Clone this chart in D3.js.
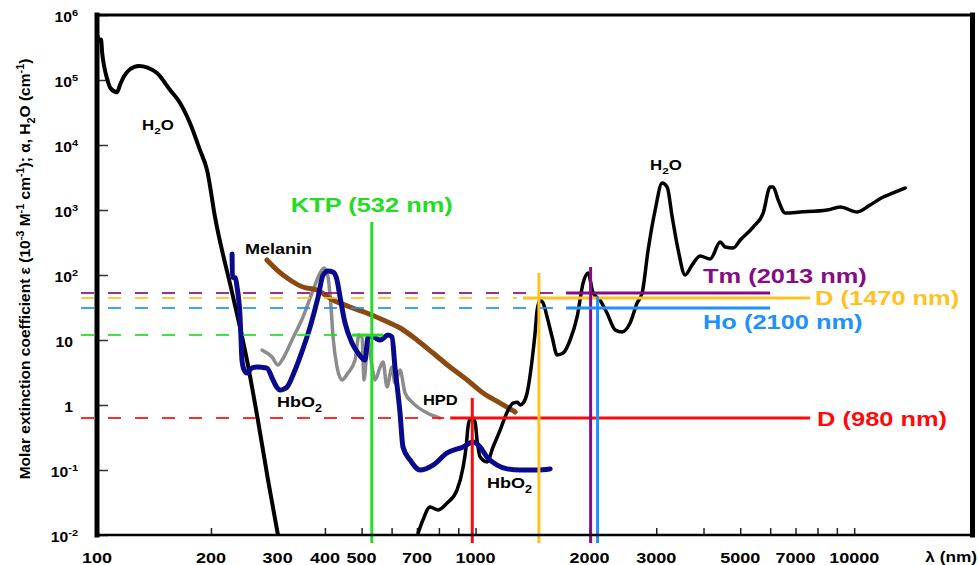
<!DOCTYPE html>
<html>
<head>
<meta charset="utf-8">
<script src="https://cdn.jsdelivr.net/npm/d3@7/dist/d3.min.js"></script>
<style>
  html, body { margin: 0; padding: 0; background: #fff; }
  svg { display: block; }
  text { font-family: "Liberation Sans", Arial, sans-serif; font-weight: bold; }
</style>
</head>
<body>
<svg id="chart" width="978" height="565"></svg>
<script>
// Absorption spectra: wavelength (nm), value (molar extinction coefficient or absorption coefficient)
const h2oUV = [
  [100.3, 4.8e5], [101.2, 4.0e5], [102.5, 4.2e5], [103.2, 2.6e5], [104.5, 1.6e5],
  [106.3, 1.05e5], [108.5, 7.5e4], [112.9, 6.5e4], [115.1, 8.5e4], [118, 1.15e5],
  [122, 1.45e5], [129, 1.64e5], [136, 1.55e5], [144, 1.28e5], [156, 7.0e4],
  [165.7, 4.43e4], [176, 2.18e4], [187, 8.4e3], [195.3, 4.1e3], [205, 780],
  [228.8, 46], [249, 4.9], [266, 0.59], [283, 0.07], [300.6, 0.01]
];
const h2oIR = [
  [705, 0.0107], [726, 0.017], [758, 0.027], [796, 0.0243], [841, 0.031], [893, 0.049],
  [927, 0.111], [944, 0.226], [955, 0.46], [967, 0.61], [985, 0.6], [997, 0.547],
  [1009, 0.29], [1028, 0.158], [1072, 0.133], [1112, 0.226], [1161, 0.41], [1212, 0.78],
  [1256, 1.07], [1290, 1.1], [1311, 1.0], [1340, 1.1], [1368, 1.53], [1410, 4.9],
  [1436, 12.8], [1454, 29], [1481, 41], [1508, 37], [1545, 22.6], [1593, 11.1],
  [1642, 5.9], [1703, 6.3], [1777, 10], [1854, 22.6], [1923, 75], [1982, 107],
  [2043, 53], [2132, 41], [2224, 26], [2337, 14.3], [2438, 13.3], [2559, 18.3],
  [2670, 37], [2754, 53], [2856, 243], [2981, 1000], [3110, 2600], [3206, 2260],
  [3306, 780], [3428, 243], [3576, 100], [3733, 143], [3918, 196], [4165, 176],
  [4427, 322], [4563, 270], [4790, 260], [5001, 345], [5409, 547], [5750, 900],
  [5999, 2260], [6110, 2260], [6298, 1426], [6573, 900], [7200, 931], [8486, 1000],
  [9182, 1112], [10185, 931], [11020, 1194], [11930, 1585], [12675, 1828], [13640, 2180]
];
const hbo2 = [
  [227.4, 210], [227.8, 93], [232, 90], [234.4, 65], [238.7, 22.6], [240.2, 10],
  [241.5, 4.9], [245, 3.4], [249, 3.1], [256, 3.7], [264.6, 3.84], [272, 3.8],
  [281, 3.7], [291.6, 2.43], [298, 1.9], [304.5, 1.7], [311, 1.75], [317.7, 1.89],
  [333.5, 3.45], [343.7, 5.47], [365.4, 15.8], [383.7, 45.9], [395.5, 100],
  [407.6, 115], [420.3, 111], [430.5, 83.8], [438.5, 45.9], [452, 18.3], [471.6, 9.0],
  [489.3, 6.3], [510.5, 4.92], [519.9, 11.1], [535.7, 11.1], [559.6, 10], [587.3, 11.9],
  [601.4, 11.1], [612.4, 3.84], [631.6, 0.754], [643, 0.226], [671, 0.143], [713, 0.1],
  [772, 0.119], [841, 0.183], [927, 0.226], [985, 0.27], [1028, 0.226], [1072, 0.158],
  [1140, 0.119], [1212, 0.104], [1311, 0.1], [1454, 0.1], [1574, 0.104]
];
const hpd = [
  [272.9, 7.0], [290, 5.47], [300.6, 4.12], [308.3, 4.92], [327.5, 10], [350, 22.6],
  [372.2, 58.8], [388.2, 107], [398, 128], [407.6, 93], [415, 32.2], [420.3, 11.1],
  [430.5, 3.84], [443.6, 2.43], [460, 3.1], [480.4, 4.92], [492, 11.9], [501, 11.1],
  [507.5, 2.43], [519.9, 10], [533, 3.84], [542.8, 2.43], [559.6, 3.84], [569.6, 4.59],
  [583.5, 1.89], [601.4, 3.84], [612.4, 2.18], [631.6, 3.45], [651.3, 1.53],
  [683.9, 1.07], [745, 0.754], [805, 0.63]
];
const melanin = [
  [281, 170], [299, 119], [323.5, 83.8], [350, 65.3], [381, 58.8], [420, 41.2],
  [466, 32.2], [516, 26], [570, 20.3], [632, 15.3], [700, 10], [772, 6.3],
  [856, 3.84], [950, 2.43], [1047, 1.53], [1161, 1.07], [1272, 0.78]
];

// Laser lines: emission wavelength, absorption level marked, solid span, top of the vertical marker
const laserNames = ["KTP (532 nm)", "D (980 nm)", "D (1470 nm)", "Tm (2013 nm)", "Ho (2100 nm)"];
const laserWavelengths = [532, 980, 1470, 2013, 2100];
const laserLevels = [11.9, 0.63, 44.3, 52.9, 31];
const laserSpanStart = [472, 857, 1334, 1734, 1734];
const laserSpanEnd = [570, 7650, 7650, 6000, 6000];
const laserTops = [653, 1.28, 107, 133, 46];
const laserColors = ["#22dd22", "#ff0a0a", "#ffc21e", "#850d85", "#1e90ff"];

// Axis ticks
const wavelengthTicks = [200, 300, 400, 500, 600, 700, 800, 900, 1000,
  2000, 3000, 4000, 5000, 6000, 7000, 8000, 9000, 10000];
const wavelengthLabels = [100, 200, 300, 400, 500, 700, 1000, 2000, 3000, 5000, 7000, 10000];
const decadeTicks = [1e-2, 1e-1, 1, 10, 1e2, 1e3, 1e4, 1e5, 1e6];
const decadeExponents = ["-2", "-1", "", "", "2", "3", "4", "5", "6"];
const decadeBases = ["10", "10", "1", "10", "10", "10", "10", "10", "10"];

const svg = d3.select("#chart");
svg.append("rect").attr("width", 978).attr("height", 565).attr("fill", "#fff");

const x = d3.scaleLog().domain([100, 20600]).range([97, 973]);
const y = d3.scaleLog().domain([1e-2, 1e6]).range([535, 15]);

// widen glyphs horizontally by factor k
function stretch(sel, k) {
  sel.each(function () {
    const w = this.getComputedTextLength();
    d3.select(this).attr("textLength", w * k).attr("lengthAdjust", "spacingAndGlyphs");
  });
}
// text made of plain / superscript / subscript runs
function rich(sel, parts, size) {
  let cur = 0;
  parts.forEach(p => {
    const target = p.s === "sup" ? -0.42 * size : p.s === "sub" ? 0.3 * size : 0;
    sel.append("tspan")
      .attr("dy", target - cur)
      .attr("font-size", p.s ? size * 0.7 : size)
      .text(p.t);
    cur = target;
  });
  return sel;
}

svg.append("clipPath").attr("id", "plot")
  .append("rect").attr("x", 97).attr("y", 15).attr("width", 876).attr("height", 520);

// axes ticks (inward)
const xAxis = d3.axisBottom(x).tickValues(wavelengthTicks).tickSize(-7).tickSizeOuter(0).tickFormat("");
const gx = svg.append("g").attr("transform", "translate(0,535)").call(xAxis);
gx.select(".domain").remove();
gx.selectAll("line").attr("stroke", "#222").attr("stroke-width", 1.5);

const yAxis = d3.axisLeft(y).tickValues(decadeTicks).tickSize(-11).tickSizeOuter(0).tickFormat("");
const gy = svg.append("g").attr("transform", "translate(97,0)").call(yAxis);
gy.select(".domain").remove();
gy.selectAll("line").attr("stroke", "#333").attr("stroke-width", 1.5);

// spectra
const line = d3.line().x(d => x(d[0])).y(d => y(d[1])).curve(d3.curveMonotoneX);
const curves = svg.append("g").attr("clip-path", "url(#plot)")
  .attr("fill", "none").attr("stroke-linejoin", "round").attr("stroke-linecap", "round");
curves.append("path").datum(hpd).attr("d", line).attr("stroke", "#8c8c8c").attr("stroke-width", 3.5);
curves.append("path").datum(melanin).attr("d", line).attr("stroke", "#8b4a10").attr("stroke-width", 5);
curves.append("path").datum(h2oUV).attr("d", line).attr("stroke", "#000").attr("stroke-width", 4);
curves.append("path").datum(h2oIR).attr("d", line).attr("stroke", "#000").attr("stroke-width", 3.5);
curves.append("path").datum(hbo2).attr("d", line).attr("stroke", "#0a0a8c").attr("stroke-width", 5);

// laser markers
const lasers = svg.append("g");
laserNames.forEach((name, i) => {
  const c = laserColors[i];
  const ly = y(laserLevels[i]);
  const xs = x(laserSpanStart[i]);
  lasers.append("line")
    .attr("x1", x(100) - 16).attr("x2", xs - 6).attr("y1", ly).attr("y2", ly)
    .attr("stroke", c).attr("stroke-width", 2).attr("stroke-dasharray", "13,14").attr("opacity", 0.85);
  lasers.append("line")
    .attr("x1", xs).attr("x2", x(laserSpanEnd[i])).attr("y1", ly).attr("y2", ly)
    .attr("stroke", c).attr("stroke-width", 3);
  lasers.append("line")
    .attr("x1", x(laserWavelengths[i])).attr("x2", x(laserWavelengths[i]))
    .attr("y1", y(laserTops[i])).attr("y2", 543)
    .attr("stroke", c).attr("stroke-width", 3);
});

// frame
const frame = svg.append("g").attr("stroke", "#000").attr("stroke-linecap", "square");
frame.append("line").attr("x1", 97).attr("x2", 973).attr("y1", 535).attr("y2", 535).attr("stroke-width", 2.5);
frame.append("line").attr("x1", 97).attr("x2", 973).attr("y1", 15).attr("y2", 15).attr("stroke-width", 3);
frame.append("line").attr("x1", 97).attr("x2", 97).attr("y1", 15).attr("y2", 535).attr("stroke-width", 5);
frame.append("line").attr("x1", 972.5).attr("x2", 972.5).attr("y1", 15).attr("y2", 535).attr("stroke-width", 5);

// laser labels
const labelPos = [
  { xx: x(532), yy: 212, anchor: "middle" },
  { xx: x(laserSpanEnd[1]) + 7, yy: y(laserLevels[1]) + 7.5, anchor: "start" },
  { xx: x(laserSpanEnd[2]) + 5, yy: y(laserLevels[2]) + 7.5, anchor: "start" },
  { xx: 703, yy: y(laserLevels[3]) - 10, anchor: "start" },
  { xx: 703, yy: y(laserLevels[4]) + 21, anchor: "start" }
];
laserNames.forEach((name, i) => {
  const t = svg.append("text")
    .attr("x", labelPos[i].xx).attr("y", labelPos[i].yy)
    .attr("text-anchor", labelPos[i].anchor)
    .attr("font-size", 21).attr("fill", laserColors[i]).text(name);
  stretch(t, 1.21);
});

// curve names
function curveLabel(nm, val, parts, size, k) {
  const t = svg.append("text").attr("x", x(nm)).attr("y", y(val)).attr("fill", "#000");
  rich(t, parts, size);
  stretch(t, k);
}
curveLabel(131.5, 1.7e4, [{ t: "H" }, { t: "2", s: "sub" }, { t: "O" }], 14, 1.2);
curveLabel(2890, 4120, [{ t: "H" }, { t: "2", s: "sub" }, { t: "O" }], 14, 1.2);
curveLabel(246, 210, [{ t: "Melanin" }], 15, 1.2);
curveLabel(299, 0.93, [{ t: "HbO" }, { t: "2", s: "sub" }], 15, 1.2);
curveLabel(726, 1.0, [{ t: "HPD" }], 15, 1.1);
curveLabel(1072, 0.0528, [{ t: "HbO" }, { t: "2", s: "sub" }], 15, 1.2);

// x tick labels
svg.append("g").selectAll("text").data(wavelengthLabels).join("text")
  .attr("x", d => x(d)).attr("y", 563).attr("text-anchor", "middle")
  .attr("font-size", 15).text(d => d)
  .call(stretch, 1.2);
svg.append("text").attr("x", 977).attr("y", 562).attr("text-anchor", "end")
  .attr("font-size", 15).text("λ (nm)").call(stretch, 1.15);

// y tick labels
decadeTicks.forEach((v, i) => {
  const sup = decadeExponents[i];
  const t = svg.append("text")
    .attr("x", sup ? 78 : 73).attr("y", y(v) + 7)
    .attr("text-anchor", "end").attr("font-size", 14);
  rich(t, sup ? [{ t: decadeBases[i] }, { t: sup, s: "sup" }] : [{ t: decadeBases[i] }], 14);
  stretch(t, 1.12);
});

// y axis title
const title = svg.append("text")
  .attr("transform", "translate(30,269) rotate(-90)")
  .attr("text-anchor", "middle").attr("font-size", 15.5);
rich(title, [
  { t: "Molar extinction coefficient ε (10" }, { t: "-3", s: "sup" }, { t: " M" }, { t: "-1", s: "sup" },
  { t: " cm" }, { t: "-1", s: "sup" }, { t: "); α, H" }, { t: "2", s: "sub" }, { t: "O (cm" },
  { t: "-1", s: "sup" }, { t: ")" }
], 15.5);
</script>
</body>
</html>
